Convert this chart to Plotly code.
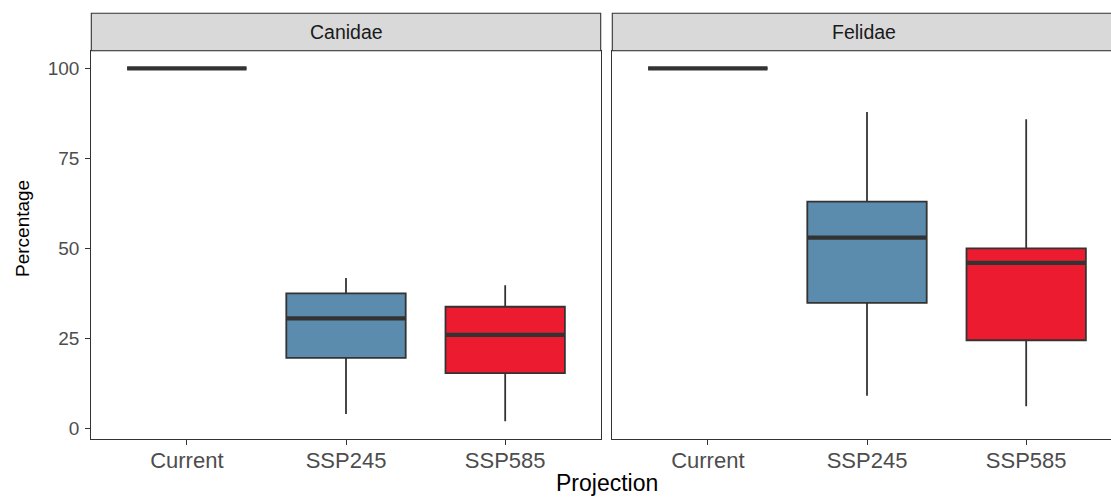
import plotly.graph_objects as go

# Projection categories and the two carnivore families
projections = ["Current", "SSP245", "SSP585"]
families = ["Canidae", "Felidae"]
box_colors = ["#8fb27a", "#5b8bad", "#ed1b2f"]

# Box-plot summary statistics (percentage of range retained)
canidae_lower = [100, 4.0, 2.0]
canidae_q1 = [100, 19.6, 15.4]
canidae_median = [100, 30.6, 26.0]
canidae_q3 = [100, 37.5, 33.8]
canidae_upper = [100, 41.8, 39.8]

felidae_lower = [100, 9.1, 6.2]
felidae_q1 = [100, 34.9, 24.5]
felidae_median = [100, 53.0, 46.0]
felidae_q3 = [100, 63.0, 50.0]
felidae_upper = [100, 87.9, 85.9]

y_ticks = [0, 25, 50, 75, 100]

W, H = 1111, 497
FONT = "Liberation Sans, Arial, Helvetica, sans-serif"
EDGE = "#333333"
BOX_W = 0.75


def px_x(p):
    return p / W


def px_y(p):
    return (H - p) / H


fig = go.Figure()

panels = [
    ("x", "y", canidae_lower, canidae_q1, canidae_median, canidae_q3, canidae_upper),
    ("x2", "y2", felidae_lower, felidae_q1, felidae_median, felidae_q3, felidae_upper),
]

for xa, ya, lo, q1, med, q3, hi in panels:
    for i, proj in enumerate(projections):
        fig.add_trace(go.Box(
            x=[i], q1=[q1[i]], median=[med[i]], q3=[q3[i]],
            lowerfence=[lo[i]], upperfence=[hi[i]],
            width=BOX_W, whiskerwidth=0,
            fillcolor=box_colors[i],
            line=dict(color=EDGE, width=1.8),
            boxpoints=False, showlegend=False, hoverinfo="skip",
            xaxis=xa, yaxis=ya, name=proj,
        ))
    # thicker median bars drawn on top of each box
    mx, my = [], []
    for i in range(len(projections)):
        mx += [i - BOX_W / 2, i + BOX_W / 2, None]
        my += [med[i], med[i], None]
    fig.add_trace(go.Scatter(
        x=mx, y=my, mode="lines",
        line=dict(color=EDGE, width=4.2),
        showlegend=False, hoverinfo="skip", xaxis=xa, yaxis=ya,
    ))

# panel geometry (pixels)
L0, L1 = 91.3, 600.7
R0 = 612.3
TOP, BOT = 50.7, 439.3
STRIP_TOP = 13.3
step = (L1 - L0) / 3.2
right_max = -0.6 + (W - R0) / step

y_dom = [px_y(BOT), px_y(TOP)]
y_range = [-3.0, 104.9]

axis_common = dict(
    showgrid=False, zeroline=False, showline=True, linecolor=EDGE, linewidth=1.1,
    ticks="outside", ticklen=5, tickwidth=1.1, tickcolor=EDGE,
)
x_tickfont = dict(family=FONT, size=22, color="#4d4d4d")
y_tickfont = dict(family=FONT, size=19, color="#4d4d4d")

fig.update_layout(
    width=W, height=H,
    margin=dict(l=0, r=0, t=0, b=0),
    plot_bgcolor="white", paper_bgcolor="white",
    xaxis=dict(domain=[px_x(L0), px_x(L1)], range=[-0.6, 2.6], mirror=True,
               tickvals=[0, 1, 2], ticktext=projections, anchor="y",
               tickfont=x_tickfont, ticklabelstandoff=-4, **axis_common),
    xaxis2=dict(domain=[px_x(R0), 1.0], range=[-0.6, right_max], mirror=True,
                tickvals=[0, 1, 2], ticktext=projections, anchor="y2",
                tickfont=x_tickfont, ticklabelstandoff=-4, **axis_common),
    yaxis=dict(domain=y_dom, range=y_range, mirror=True, anchor="x",
               tickvals=y_ticks, tickfont=y_tickfont, ticklabelstandoff=2, **axis_common),
    yaxis2=dict(domain=y_dom, range=y_range, anchor="x2", showgrid=False, zeroline=False,
                showline=True, linecolor=EDGE, linewidth=1.1, showticklabels=False, ticks=""),
)

# facet strips
strips = [(L0, L1, families[0]), (R0, W + 20, families[1])]
for x0, x1, label in strips:
    fig.add_shape(type="rect", xref="paper", yref="paper",
                  x0=px_x(x0), x1=px_x(x1), y0=px_y(TOP), y1=px_y(STRIP_TOP),
                  fillcolor="#d9d9d9", line=dict(color=EDGE, width=1.1), layer="above")
centers = [(L0 + L1) / 2, 863.5]
for cx, label in zip(centers, families):
    fig.add_annotation(text=label, xref="paper", yref="paper",
                       x=px_x(cx), y=px_y((TOP + STRIP_TOP) / 2),
                       xanchor="center", yanchor="middle", showarrow=False,
                       font=dict(family=FONT, size=19.5, color="#1a1a1a"))

# axis titles
fig.add_annotation(text="Percentage", xref="paper", yref="paper",
                   x=px_x(22), y=px_y(229), textangle=-90,
                   xanchor="center", yanchor="middle", showarrow=False,
                   font=dict(family=FONT, size=19, color="black"))
fig.add_annotation(text="Projection", xref="paper", yref="paper",
                   x=px_x(606.7), y=px_y(483), xanchor="center", yanchor="middle",
                   showarrow=False, font=dict(family=FONT, size=23, color="black"))

fig.write_html("out.html")
